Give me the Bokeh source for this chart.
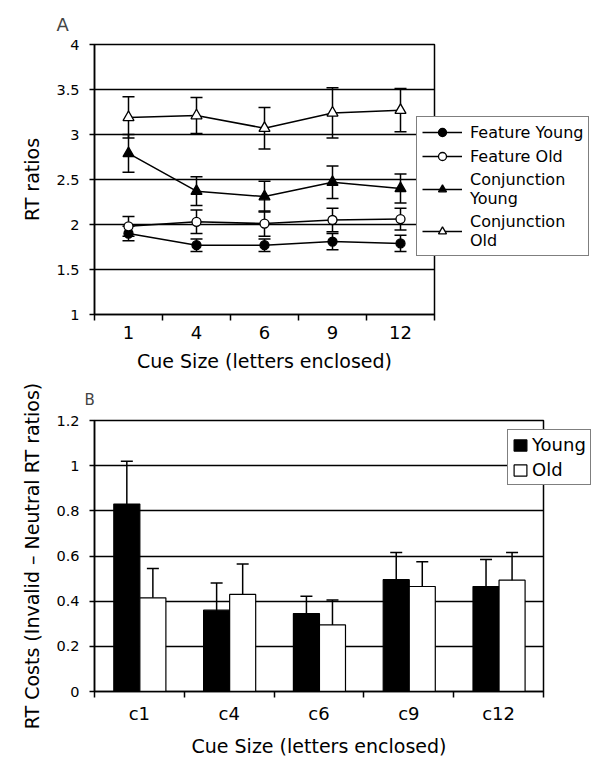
from bokeh.plotting import figure
from bokeh.layouts import column
from bokeh.models import (ColumnDataSource, Whisker, TeeHead, FixedTicker,
                          CustomJSTickFormatter, Legend, LegendItem)
from bokeh.embed import file_html
from bokeh.resources import INLINE

FONT = "DejaVu Sans"

# ---------------- Panel A data ----------------
cue_sizes = ["1", "4", "6", "9", "12"]
feature_young = [1.90, 1.77, 1.77, 1.81, 1.79]
feature_young_err = [0.08, 0.07, 0.07, 0.09, 0.09]
feature_old = [1.98, 2.03, 2.01, 2.05, 2.06]
feature_old_err = [0.11, 0.13, 0.14, 0.13, 0.12]
conj_young = [2.79, 2.37, 2.31, 2.47, 2.40]
conj_young_err = [0.21, 0.16, 0.17, 0.18, 0.16]
conj_old = [3.19, 3.21, 3.07, 3.24, 3.27]
conj_old_err = [0.23, 0.20, 0.23, 0.28, 0.24]
ratio_ticks = [1, 1.5, 2, 2.5, 3, 3.5, 4]

# ---------------- Panel B data ----------------
cost_labels = ["c1", "c4", "c6", "c9", "c12"]
young_cost = [0.83, 0.36, 0.345, 0.495, 0.465]
young_cost_err = [0.19, 0.12, 0.077, 0.12, 0.12]
old_cost = [0.415, 0.43, 0.295, 0.465, 0.493]
old_cost_err = [0.13, 0.135, 0.11, 0.11, 0.122]
cost_ticks = [0, 0.2, 0.4, 0.6, 0.8, 1.0, 1.2]


def style_axes(p, labels, yticks, ylabel):
    n = len(labels)
    xs = list(range(1, n + 1))
    p.xaxis.ticker = FixedTicker(ticks=xs, minor_ticks=[i + 0.5 for i in range(n + 1)])
    p.xaxis.formatter = CustomJSTickFormatter(args=dict(labels=labels),
                                              code="return labels[Math.round(tick) - 1] || '';")
    p.xaxis.major_tick_out = 0
    p.xaxis.major_tick_in = 0
    p.xaxis.minor_tick_out = 6
    p.xaxis.minor_tick_in = 0
    p.xaxis.minor_tick_line_color = "black"
    p.xaxis.minor_tick_line_width = 1.5
    p.xaxis.major_label_text_font_size = "18px"
    p.xaxis.major_label_standoff = 5
    p.xaxis.axis_label = "Cue Size (letters enclosed)"
    p.xaxis.axis_label_standoff = 8
    p.yaxis.ticker = FixedTicker(ticks=yticks, minor_ticks=[])
    p.yaxis.formatter = CustomJSTickFormatter(code="return tick.toString();")
    p.yaxis.major_tick_out = 5
    p.yaxis.major_tick_in = 0
    p.yaxis.major_label_text_font_size = "14.5px"
    p.yaxis.major_label_standoff = 10
    p.yaxis.axis_label = ylabel
    p.yaxis.axis_label_standoff = 10
    for ax in (p.xaxis, p.yaxis):
        ax.axis_line_color = "black"
        ax.axis_line_width = 1.5
        ax.major_tick_line_color = "black"
        ax.major_tick_line_width = 1.5
        ax.major_label_text_font = FONT
        ax.major_label_text_color = "black"
        ax.axis_label_text_font = FONT
        ax.axis_label_text_font_size = "19px"
        ax.axis_label_text_font_style = "normal"
        ax.axis_label_text_color = "black"
    p.xgrid.visible = False
    p.ygrid.ticker = FixedTicker(ticks=yticks)
    p.ygrid.grid_line_color = "black"
    p.ygrid.grid_line_width = 1.5
    p.outline_line_color = "black"
    p.outline_line_width = 1.5
    p.outline_line_alpha = 1.0
    p.background_fill_color = "white"
    p.border_fill_color = "white"
    return xs


# ---------------- Panel A ----------------
p1 = figure(frame_width=340, frame_height=270, x_range=(0.5, 5.5), y_range=(1, 4),
            output_backend="svg", toolbar_location=None,
            min_border_left=93, min_border_right=150, min_border_top=44, min_border_bottom=62)
p1.title.text = "A"
p1.title.align = "left"
p1.title.offset = -38
p1.title.text_font = FONT
p1.title.text_font_size = "18px"
p1.title.text_font_style = "normal"
p1.title.standoff = 20
xs = style_axes(p1, cue_sizes, ratio_ticks, "RT ratios")

series = [
    ("Feature Young", feature_young, feature_young_err, "circle", "black", 9),
    ("Feature Old", feature_old, feature_old_err, "circle", "white", 9),
    ("Conjunction\nYoung", conj_young, conj_young_err, "triangle", "black", 11),
    ("Conjunction\nOld", conj_old, conj_old_err, "triangle", "white", 11),
]
items = []
for name, vals, errs, marker, fill, size in series:
    src = ColumnDataSource(dict(x=xs, y=vals,
                                upper=[v + e for v, e in zip(vals, errs)],
                                lower=[v - e for v, e in zip(vals, errs)]))
    w = Whisker(source=src, base="x", upper="upper", lower="lower",
                line_color="black", line_width=1.5, level="underlay",
                upper_head=TeeHead(size=12, line_color="black", line_width=1.5),
                lower_head=TeeHead(size=12, line_color="black", line_width=1.5))
    p1.add_layout(w)
    ln = p1.line("x", "y", source=src, line_color="black", line_width=1.5)
    sc = p1.scatter("x", "y", source=src, marker=marker, size=size,
                    fill_color=fill, line_color="black", line_width=1.3)
    items.append(LegendItem(label=name, renderers=[ln, sc]))

leg1 = Legend(items=items, location=(-18, 58), orientation="vertical",
              label_text_font=FONT, label_text_font_size="16px", label_text_color="black",
              glyph_width=40, glyph_height=20, label_standoff=8, padding=5, spacing=4,
              margin=0, border_line_color="black", border_line_width=1.5,
              background_fill_color="white", background_fill_alpha=1.0)
p1.add_layout(leg1, "right")

# ---------------- Panel B ----------------
p2 = figure(frame_width=449, frame_height=271, x_range=(0.5, 5.5), y_range=(0, 1.2),
            output_backend="svg", toolbar_location=None,
            min_border_left=94, min_border_right=60, min_border_top=44, min_border_bottom=64)
p2.title.text = "B"
p2.title.align = "left"
p2.title.offset = -10
p2.title.vertical_align = "top"
p2.title.text_font = FONT
p2.title.text_font_size = "15px"
p2.title.text_font_style = "normal"
p2.title.standoff = 20
xs2 = style_axes(p2, cost_labels, cost_ticks, "RT Costs (Invalid \u2013 Neutral RT ratios)")

bar_w = 0.29
groups = [("Young", young_cost, young_cost_err, "black", -0.14),
          ("Old", old_cost, old_cost_err, "white", 0.15)]
items2 = []
for name, vals, errs, fill, shift in groups:
    src = ColumnDataSource(dict(x=[x + shift for x in xs2], y=vals,
                                upper=[v + e for v, e in zip(vals, errs)],
                                lower=[v - e for v, e in zip(vals, errs)]))
    r = p2.vbar(x="x", top="y", bottom=0, width=bar_w, source=src,
                fill_color=fill, line_color="black", line_width=1.2)
    w = Whisker(source=src, base="x", upper="upper", lower="lower",
                line_color="black", line_width=1.5,
                upper_head=TeeHead(size=12, line_color="black", line_width=1.5),
                lower_head=TeeHead(size=12, line_color="black", line_width=1.5))
    p2.add_layout(w)
    items2.append(LegendItem(label=name, renderers=[r]))

leg2 = Legend(items=items2, location=(-36, 206), orientation="vertical",
              label_text_font=FONT, label_text_font_size="18px", label_text_color="black",
              glyph_width=16, glyph_height=14, label_standoff=4, padding=4, spacing=4,
              margin=0, border_line_color="black", border_line_width=1.5,
              background_fill_color="white", background_fill_alpha=1.0)
p2.add_layout(leg2, "right")

layout = column(p1, p2, spacing=0)
open("out.html", "w").write(file_html(layout, INLINE))
